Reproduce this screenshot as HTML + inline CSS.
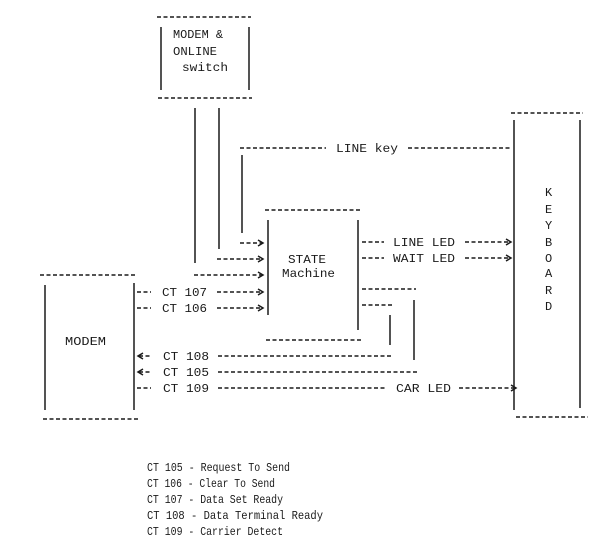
<!DOCTYPE html>
<html><head><meta charset="utf-8"><style>
html,body{margin:0;padding:0;background:#fff;}
svg{display:block}
text{font-family:"Liberation Mono",monospace;font-size:12px;fill:#1a1a1a}
.d{stroke:#1a1a1a;stroke-width:1.5;stroke-dasharray:4 2.5;fill:none}
.s{stroke:#1a1a1a;stroke-width:1.5;fill:none}
</style></head><body>
<svg width="604" height="547" viewBox="0 0 604 547" xmlns="http://www.w3.org/2000/svg">
<line class="d" x1="157" y1="17" x2="251" y2="17"/>
<line class="s" x1="161" y1="27" x2="161" y2="90"/>
<line class="s" x1="249" y1="27" x2="249" y2="90"/>
<line class="d" x1="158" y1="98" x2="252" y2="98"/>
<text x="173" y="38" textLength="50" lengthAdjust="spacingAndGlyphs">MODEM &amp;</text>
<text x="173" y="55" textLength="44" lengthAdjust="spacingAndGlyphs">ONLINE</text>
<text x="182" y="71" textLength="46" lengthAdjust="spacingAndGlyphs">switch</text>
<line class="s" x1="195" y1="108" x2="195" y2="263"/>
<line class="s" x1="219" y1="108" x2="219" y2="249"/>
<line class="s" x1="242" y1="155" x2="242" y2="233"/>
<line class="d" x1="194" y1="275" x2="262" y2="275"/><polyline class="s" points="258,272 263,275 258,278"/>
<line class="d" x1="217" y1="259" x2="262" y2="259"/><polyline class="s" points="258,256 263,259 258,262"/>
<line class="d" x1="240" y1="243" x2="262" y2="243"/><polyline class="s" points="258,240 263,243 258,246"/>
<line class="d" x1="240" y1="148" x2="326" y2="148"/>
<text x="336" y="152" textLength="62" lengthAdjust="spacingAndGlyphs">LINE key</text>
<line class="d" x1="408" y1="148" x2="512" y2="148"/>
<line class="d" x1="265" y1="210" x2="360" y2="210"/>
<line class="s" x1="268" y1="220" x2="268" y2="315"/>
<line class="s" x1="358" y1="220" x2="358" y2="330"/>
<line class="d" x1="266" y1="340" x2="361" y2="340"/>
<text x="288" y="263" textLength="38" lengthAdjust="spacingAndGlyphs">STATE</text>
<text x="282" y="277" textLength="53" lengthAdjust="spacingAndGlyphs">Machine</text>
<line class="d" x1="362" y1="242" x2="384" y2="242"/>
<text x="393" y="246" textLength="62" lengthAdjust="spacingAndGlyphs">LINE LED</text>
<line class="d" x1="465" y1="242" x2="510" y2="242"/><polyline class="s" points="506,239 511,242 506,245"/>
<line class="d" x1="362" y1="258" x2="384" y2="258"/>
<text x="393" y="262" textLength="62" lengthAdjust="spacingAndGlyphs">WAIT LED</text>
<line class="d" x1="465" y1="258" x2="510" y2="258"/><polyline class="s" points="506,255 511,258 506,261"/>
<line class="d" x1="362" y1="289" x2="416" y2="289"/>
<line class="d" x1="362" y1="305" x2="393" y2="305"/>
<line class="s" x1="390" y1="315" x2="390" y2="345"/>
<line class="s" x1="414" y1="300" x2="414" y2="360"/>
<line class="d" x1="40" y1="275" x2="136" y2="275"/>
<line class="s" x1="45" y1="285" x2="45" y2="410"/>
<line class="s" x1="134" y1="283" x2="134" y2="410"/>
<line class="d" x1="43" y1="419" x2="138" y2="419"/>
<text x="65" y="345" textLength="41" lengthAdjust="spacingAndGlyphs">MODEM</text>
<line class="d" x1="137" y1="292" x2="151" y2="292"/>
<text x="162" y="296" textLength="45" lengthAdjust="spacingAndGlyphs">CT 107</text>
<line class="d" x1="217" y1="292" x2="262" y2="292"/><polyline class="s" points="258,289 263,292 258,295"/>
<line class="d" x1="137" y1="308" x2="151" y2="308"/>
<text x="162" y="312" textLength="45" lengthAdjust="spacingAndGlyphs">CT 106</text>
<line class="d" x1="217" y1="308" x2="262" y2="308"/><polyline class="s" points="258,305 263,308 258,311"/>
<polyline class="s" points="143,353 138,356 143,359"/><line class="d" x1="139" y1="356" x2="151" y2="356"/>
<text x="163" y="360" textLength="46" lengthAdjust="spacingAndGlyphs">CT 108</text>
<line class="d" x1="218" y1="356" x2="392" y2="356"/>
<polyline class="s" points="143,369 138,372 143,375"/><line class="d" x1="139" y1="372" x2="151" y2="372"/>
<text x="163" y="376" textLength="46" lengthAdjust="spacingAndGlyphs">CT 105</text>
<line class="d" x1="218" y1="372" x2="417" y2="372"/>
<line class="d" x1="137" y1="388" x2="151" y2="388"/>
<text x="163" y="392" textLength="46" lengthAdjust="spacingAndGlyphs">CT 109</text>
<line class="d" x1="218" y1="388" x2="386" y2="388"/>
<text x="396" y="392" textLength="55" lengthAdjust="spacingAndGlyphs">CAR LED</text>
<line class="d" x1="459" y1="388" x2="515" y2="388"/><polyline class="s" points="511,385 516,388 511,391"/>
<line class="d" x1="511" y1="113" x2="583" y2="113"/>
<line class="s" x1="514" y1="120" x2="514" y2="410"/>
<line class="s" x1="580" y1="120" x2="580" y2="408"/>
<line class="d" x1="516" y1="417" x2="588" y2="417"/>
<text x="545" y="196">K</text><text x="545" y="213">E</text><text x="545" y="229">Y</text>
<text x="545" y="246">B</text><text x="545" y="262">O</text><text x="545" y="277">A</text>
<text x="545" y="294">R</text><text x="545" y="310">D</text>
<text x="147" y="471" textLength="143" lengthAdjust="spacingAndGlyphs">CT 105 - Request To Send</text>
<text x="147" y="487" textLength="128" lengthAdjust="spacingAndGlyphs">CT 106 - Clear To Send</text>
<text x="147" y="503" textLength="136" lengthAdjust="spacingAndGlyphs">CT 107 - Data Set Ready</text>
<text x="147" y="519" textLength="176" lengthAdjust="spacingAndGlyphs">CT 108 - Data Terminal Ready</text>
<text x="147" y="535" textLength="136" lengthAdjust="spacingAndGlyphs">CT 109 - Carrier Detect</text>
</svg>
</body></html>
